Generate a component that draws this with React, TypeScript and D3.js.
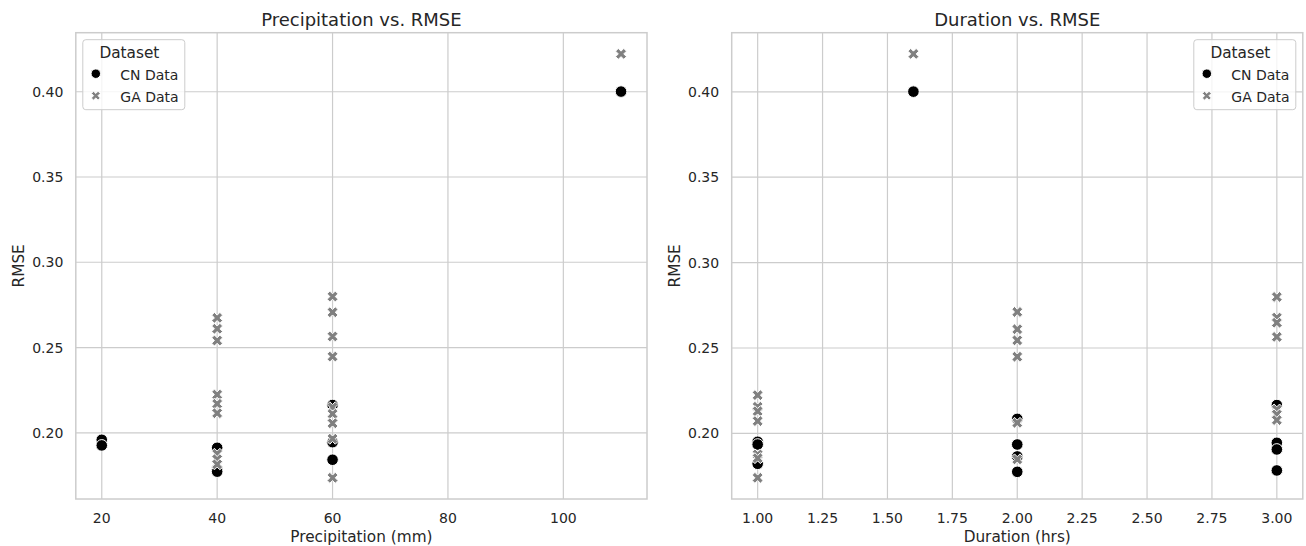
import React, { useRef, useEffect } from 'react';
import * as d3 from 'd3';

const W = 1306;
const H = 546;

// Precipitation panel
const precipCN = [20, 20, 40, 40, 40, 60, 60, 60, 110];
const precipCNRmse = [0.1959, 0.1926, 0.1912, 0.1785, 0.1772, 0.2163, 0.1945, 0.1842, 0.4001];
const precipGA = [40, 40, 40, 40, 40, 40, 40, 40, 40, 60, 60, 60, 60, 60, 60, 60, 60, 60, 110];
const precipGARmse = [
  0.2674, 0.261, 0.2541, 0.2224, 0.217, 0.2115, 0.1877, 0.1845, 0.1815,
  0.2799, 0.2707, 0.2565, 0.2447, 0.215, 0.2111, 0.2056, 0.1965, 0.1736,
  0.4222,
];

// Duration panel
const durationCN = [1, 1, 1, 1.6, 2, 2, 2, 2, 3, 3, 3, 3];
const durationCNRmse = [0.1951, 0.1935, 0.1822, 0.4001, 0.2085, 0.1935, 0.1865, 0.1775, 0.2166, 0.1945, 0.1906, 0.1783];
const durationGA = [1, 1, 1, 1, 1, 1, 1, 1.6, 2, 2, 2, 2, 2, 2, 3, 3, 3, 3, 3, 3, 3];
const durationGARmse = [
  0.2224, 0.2156, 0.213, 0.2072, 0.1877, 0.1855, 0.174,
  0.4222,
  0.2711, 0.261, 0.2545, 0.2449, 0.2062, 0.1848,
  0.2799, 0.2678, 0.2648, 0.2565, 0.214, 0.2111, 0.2078,
];

const precipTicks = [20, 40, 60, 80, 100];
const durationTicks = [1, 1.25, 1.5, 1.75, 2, 2.25, 2.5, 2.75, 3];
const rmseTicks = [0.2, 0.25, 0.3, 0.35, 0.4];

const seriesNames = ['CN Data', 'GA Data'];
const seriesColors = ['#000000', '#808080'];

const FONT = 'DejaVu Sans, sans-serif';
const TEXT = '#262626';
const GRID = '#cccccc';
const MARKER = 11.6;

// matplotlib's filled "X" marker: a filled plus rotated by 45 degrees
const plusPts = [[-1, -3], [-1, -1], [-3, -1], [-3, 1], [-1, 1], [-1, 3], [1, 3], [1, 1], [3, 1], [3, -1], [1, -1], [1, -3]];
const crossPath = (m: number) => {
  const c = Math.SQRT1_2 * m / 6;
  return 'M' + plusPts.map(([x, y]) => `${((x - y) * c).toFixed(2)},${((x + y) * c).toFixed(2)}`).join('L') + 'Z';
};

const drawMarker = (g: any, kind: number, x: number, y: number, m: number) => {
  if (kind === 0) {
    g.append('circle')
      .attr('cx', x).attr('cy', y).attr('r', m / 2)
      .attr('fill', seriesColors[0])
      .attr('stroke', '#ffffff').attr('stroke-width', 1);
  } else {
    g.append('path')
      .attr('d', crossPath(m))
      .attr('transform', `translate(${x},${y})`)
      .attr('fill', seriesColors[1])
      .attr('stroke', '#ffffff').attr('stroke-width', 1);
  }
};

const padded = (vals: number[]) => {
  const [lo, hi] = d3.extent(vals) as [number, number];
  const p = (hi - lo) * 0.05;
  return [lo - p, hi + p];
};

const drawPanel = (svg: any, cfg: any) => {
  const { left, right, top, bottom, title, xLabel, xTicks, xFormat, series, legendRight } = cfg;
  const allX = series.flatMap((s: any) => s.x);
  const allY = series.flatMap((s: any) => s.y);
  const x = d3.scaleLinear().domain(padded(allX)).range([left, right]);
  const y = d3.scaleLinear().domain(padded(allY)).range([bottom, top]);

  const g = svg.append('g');

  // grid
  g.selectAll('.vgrid').data(xTicks).enter().append('line')
    .attr('x1', (d: number) => x(d)).attr('x2', (d: number) => x(d))
    .attr('y1', top).attr('y2', bottom)
    .attr('stroke', GRID).attr('stroke-width', 1.2);
  g.selectAll('.hgrid').data(rmseTicks).enter().append('line')
    .attr('y1', (d: number) => y(d)).attr('y2', (d: number) => y(d))
    .attr('x1', left).attr('x2', right)
    .attr('stroke', GRID).attr('stroke-width', 1.2);

  // points
  series.forEach((s: any, k: number) => {
    s.x.forEach((xv: number, i: number) => drawMarker(g, k, x(xv), y(s.y[i]), MARKER));
  });

  // spines
  g.append('rect')
    .attr('x', left).attr('y', top)
    .attr('width', right - left).attr('height', bottom - top)
    .attr('fill', 'none').attr('stroke', GRID).attr('stroke-width', 1.5);

  // tick labels
  g.selectAll('.xt').data(xTicks).enter().append('text')
    .attr('x', (d: number) => x(d)).attr('y', bottom + 23.5)
    .attr('text-anchor', 'middle')
    .attr('font-family', FONT).attr('font-size', 14).attr('fill', TEXT)
    .text((d: number) => xFormat(d));
  g.selectAll('.yt').data(rmseTicks).enter().append('text')
    .attr('x', left - 12.5).attr('y', (d: number) => y(d))
    .attr('dy', '0.36em')
    .attr('text-anchor', 'end')
    .attr('font-family', FONT).attr('font-size', 14).attr('fill', TEXT)
    .text((d: number) => d3.format('.2f')(d));

  // axis labels and title
  g.append('text')
    .attr('x', (left + right) / 2).attr('y', bottom + 43)
    .attr('text-anchor', 'middle')
    .attr('font-family', FONT).attr('font-size', 15.3).attr('fill', TEXT)
    .text(xLabel);
  g.append('text')
    .attr('transform', `translate(${left - 51.8},${(top + bottom) / 2}) rotate(-90)`)
    .attr('text-anchor', 'middle')
    .attr('font-family', FONT).attr('font-size', 15.3).attr('fill', TEXT)
    .text('RMSE');
  g.append('text')
    .attr('x', (left + right) / 2).attr('y', top - 6.7)
    .attr('text-anchor', 'middle')
    .attr('font-family', FONT).attr('font-size', 18).attr('fill', TEXT)
    .text(title);

  // legend
  const bw = 102;
  const bh = 70;
  const bx = legendRight ? right - 7 - bw : left + 7;
  const by = top + 7;
  const lg = g.append('g');
  lg.append('rect')
    .attr('x', bx).attr('y', by).attr('width', bw).attr('height', bh)
    .attr('rx', 3)
    .attr('fill', '#ffffff').attr('fill-opacity', 0.8)
    .attr('stroke', GRID).attr('stroke-width', 1);
  lg.append('text')
    .attr('x', bx + 16.6).attr('y', by + 17.8)
    .attr('font-family', FONT).attr('font-size', 15.3).attr('fill', TEXT)
    .text('Dataset');
  seriesNames.forEach((name, k) => {
    drawMarker(lg, k, bx + 13, by + 34 + k * 22, 9.5);
    lg.append('text')
      .attr('x', bx + 37.5).attr('y', by + 40 + k * 22)
      .attr('font-family', FONT).attr('font-size', 14).attr('fill', TEXT)
      .text(name);
  });
};

const App = () => {
  const svgRef = useRef<SVGSVGElement>(null);

  useEffect(() => {
    const svg = d3.select(svgRef.current);
    svg.selectAll('*').remove();

    svg.append('rect').attr('width', W).attr('height', H).attr('fill', '#ffffff');

    drawPanel(svg, {
      left: 75.8, right: 647, top: 32.7, bottom: 499,
      title: 'Precipitation vs. RMSE',
      xLabel: 'Precipitation (mm)',
      xTicks: precipTicks,
      xFormat: (d: number) => String(d),
      series: [
        { x: precipCN, y: precipCNRmse },
        { x: precipGA, y: precipGARmse },
      ],
      legendRight: false,
    });

    drawPanel(svg, {
      left: 731.7, right: 1302.8, top: 32.7, bottom: 499,
      title: 'Duration vs. RMSE',
      xLabel: 'Duration (hrs)',
      xTicks: durationTicks,
      xFormat: d3.format('.2f'),
      series: [
        { x: durationCN, y: durationCNRmse },
        { x: durationGA, y: durationGARmse },
      ],
      legendRight: true,
    });
  }, []);

  return (
    <svg
      ref={svgRef}
      width={W}
      height={H}
      style={{ position: 'absolute', left: 0, top: 0, display: 'block' }}
    />
  );
};

export default App;
